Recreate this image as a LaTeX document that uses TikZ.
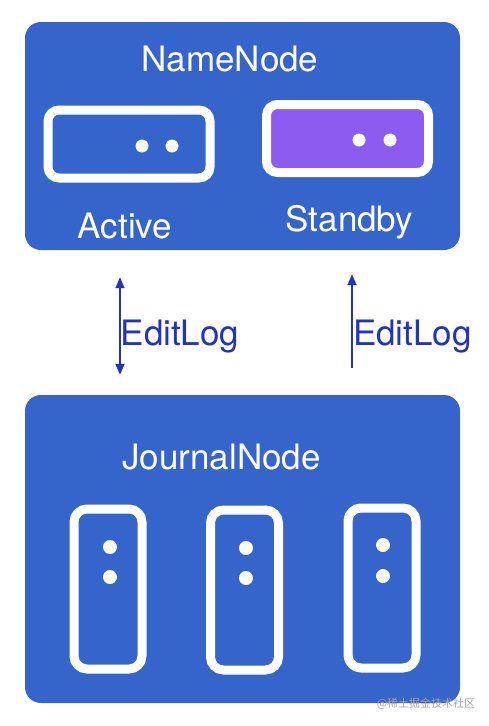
\documentclass[tikz,border=0pt]{standalone}
\usepackage{fontspec}
\setmainfont{TeX Gyre Heros}
\newfontfamily\cjk{Noto Sans CJK SC}
\usetikzlibrary{arrows.meta}
\definecolor{nnblue}{HTML}{3564CB}
\definecolor{sbpurple}{HTML}{8C5CF0}
\definecolor{logblue}{HTML}{2233C0}
\begin{document}
\begin{tikzpicture}[x=1pt,y=-1pt,
	bigbox/.style={fill=nnblue, rounded corners=16pt, minimum width=435pt},
	srv/.style={draw=white, line width=9pt, rounded corners=11pt, minimum width=162pt, minimum height=68pt},
	jsrv/.style={draw=white, line width=9pt, rounded corners=13pt, minimum width=68pt, minimum height=160pt},
	lbl/.style={text=white, font=\fontsize{35}{40}\selectfont, inner sep=0pt, anchor=base},
	logtxt/.style={text=logblue, font=\fontsize{35}{40}\selectfont, inner sep=0pt, anchor=base},
	logarrow/.style={draw=logblue, line width=1.4pt, shorten <=27pt, shorten >=20pt}]
	\useasboundingbox (0,0) rectangle (488,726);
	% name node part
	\node[bigbox, minimum height=228pt] (NN) at (242.5,136) {};
	\node[lbl] (NNt) at (230,71) {NameNode};
	\node[srv, fill=nnblue] (Act) at (129,144) {};
	\node[srv, fill=sbpurple] (Sby) at (347.5,138.5) {};
	\fill[white] (142,146) circle(6.5) (172,146) circle(6.5);
	\fill[white] (359,140) circle(6.5) (390,140) circle(6.5);
	\node[lbl] (Actt) at (125,238) {Active};
	\node[lbl] (Sbyt) at (349.5,231) {Standby};
	% journal node part
	\node[bigbox, minimum height=308pt] (JN) at (242.5,549) {};
	\node[lbl] (JNt) at (221.5,469) {JournalNode};
	\node[jsrv] (J1) at (108,589) {};
	\node[jsrv] (J2) at (244.5,590) {};
	\node[jsrv] (J3) at (382,588) {};
	\fill[white] (110,547) circle(7) (110,577) circle(7);
	\fill[white] (246,548) circle(7) (246,578) circle(7);
	\fill[white] (383,545) circle(7) (383,576) circle(7);
	% edit log
	\coordinate (Lx) at (120,0);
	\coordinate (Rx) at (352,0);
	\draw[logarrow, {Triangle[width=9pt,length=11pt]}-{Triangle[width=9pt,length=11pt]}] (NN.south -| Lx) -- (JN.north -| Lx);
	\draw[logarrow, shorten >=24pt, -{Triangle[width=9pt,length=11pt]}] (JN.north -| Rx) -- (NN.south -| Rx);
	\node[logtxt] (L1) at (180,345) {EditLog};
	\node[logtxt] (L2) at (412.5,345) {EditLog};
	\node[text=black!35, font=\cjk\fontsize{11}{13}\selectfont, inner sep=0pt] (wm) at (426,704) {@稀土掘金技术社区};
\end{tikzpicture}
\end{document}
